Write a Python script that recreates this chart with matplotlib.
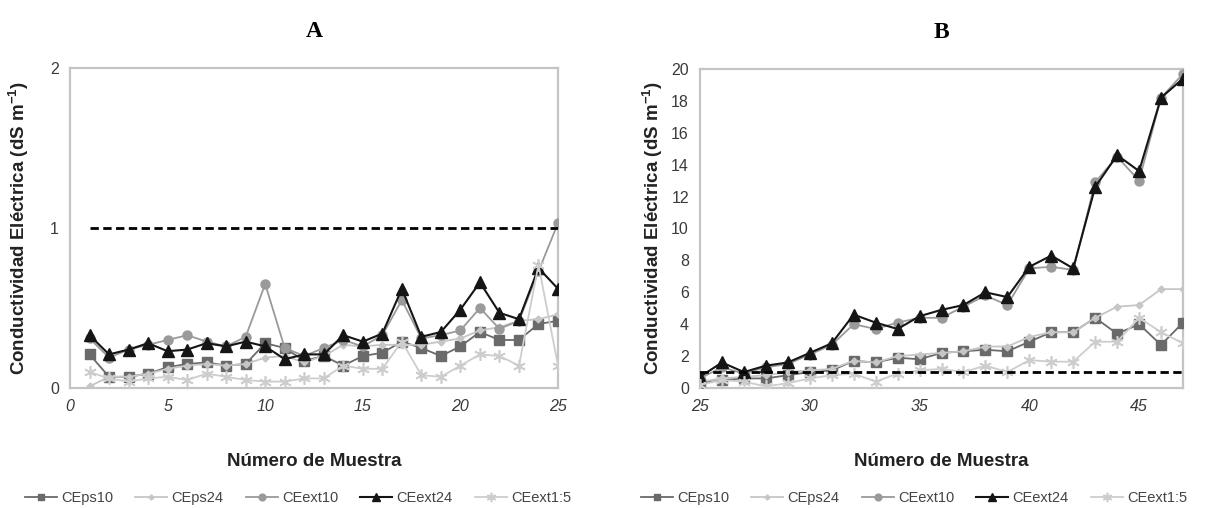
import matplotlib
matplotlib.use("Agg")
import matplotlib.pyplot as plt

# ---------------- data ----------------
samples_A = list(range(1, 26))
samples_B = list(range(25, 48))
limit_ce = 1.0

A_CEps10 = [0.21, 0.07, 0.07, 0.09, 0.13, 0.15, 0.16, 0.14, 0.15, 0.28, 0.25, 0.17,
            0.20, 0.14, 0.20, 0.22, 0.29, 0.25, 0.20, 0.26, 0.35, 0.30, 0.30, 0.40, 0.42]
A_CEps24 = [0.01, 0.07, 0.07, 0.09, 0.12, 0.14, 0.15, 0.14, 0.15, 0.19, 0.20, 0.16,
            0.20, 0.27, 0.26, 0.27, 0.27, 0.27, 0.29, 0.31, 0.36, 0.38, 0.42, 0.43, 0.46]
A_CEext10 = [0.31, 0.19, 0.24, 0.27, 0.30, 0.33, 0.29, 0.26, 0.32, 0.65, 0.25, 0.20,
             0.25, 0.30, 0.26, 0.33, 0.55, 0.31, 0.33, 0.36, 0.50, 0.37, 0.42, 0.73, 1.03]
A_CEext24 = [0.33, 0.21, 0.24, 0.28, 0.23, 0.24, 0.28, 0.26, 0.29, 0.26, 0.18, 0.21,
             0.21, 0.33, 0.29, 0.34, 0.62, 0.32, 0.35, 0.49, 0.66, 0.47, 0.43, 0.75, 0.62]
A_CEext15 = [0.10, 0.06, 0.04, 0.06, 0.07, 0.05, 0.09, 0.07, 0.05, 0.04, 0.04, 0.06,
             0.06, 0.14, 0.12, 0.12, 0.29, 0.08, 0.07, 0.14, 0.21, 0.20, 0.14, 0.77, 0.14]

B_CEps10 = [0.3, 0.5, 0.6, 0.6, 0.8, 1.0, 1.1, 1.7, 1.6, 1.9, 1.8, 2.2,
            2.3, 2.4, 2.3, 2.9, 3.5, 3.5, 4.4, 3.4, 4.0, 2.7, 4.1]
B_CEps24 = [0.4, 0.6, 0.7, 0.8, 1.0, 1.1, 1.2, 1.7, 1.6, 2.0, 2.1, 2.2,
            2.3, 2.6, 2.6, 3.2, 3.5, 3.5, 4.4, 5.1, 5.2, 6.2, 6.2]
B_CEext10 = [0.6, 1.3, 0.9, 1.3, 1.5, 2.1, 2.7, 4.0, 3.7, 4.1, 4.4, 4.4,
             5.1, 5.8, 5.2, 7.5, 7.6, 7.4, 12.9, 14.5, 13.0, 18.2, 19.7]
B_CEext24 = [0.7, 1.6, 1.0, 1.4, 1.6, 2.2, 2.8, 4.6, 4.1, 3.7, 4.5, 4.9,
             5.2, 6.0, 5.7, 7.6, 8.3, 7.5, 12.6, 14.6, 13.6, 18.2, 19.4]
B_CEext15 = [0.2, 0.5, 0.4, 0.1, 0.3, 0.6, 0.8, 0.9, 0.4, 0.9, 1.1, 1.2,
             1.0, 1.4, 1.0, 1.75, 1.65, 1.65, 2.9, 2.9, 4.4, 3.5, 2.8]

series_names = ["CEps10", "CEps24", "CEext10", "CEext24", "CEext1:5"]
ticks_A_x = [0, 5, 10, 15, 20, 25]
ticks_A_y = [0, 1, 2]
ticks_B_x = [25, 30, 35, 40, 45]
ticks_B_y = list(range(0, 21, 2))

# ---------------- style ----------------
plt.rcParams['font.family'] = ['Liberation Sans', 'DejaVu Sans']
plt.rcParams['mathtext.fontset'] = 'custom'
plt.rcParams['mathtext.rm'] = 'Liberation Sans'
plt.rcParams['mathtext.bf'] = 'Liberation Sans:bold'
styles = [
    dict(color='#6a6a6a', marker='s', ms=6.5, lw=1.3),
    dict(color='#c6c6c6', marker='D', ms=3.5, lw=1.3),
    dict(color='#9a9a9a', marker='o', ms=6.5, lw=1.3),
    dict(color='#151515', marker='^', ms=8, lw=1.5),
    dict(color='#cdcdcd', marker=(6, 2, 0), ms=9, lw=1.3, mew=1.2),
]

fig = plt.figure(figsize=(12.08, 5.08), dpi=100)
axA = fig.add_axes([70 / 1208, 120 / 508, 488 / 1208, 320 / 508])
axB = fig.add_axes([700 / 1208, 120 / 508, 483 / 1208, 319 / 508])

def draw(ax, x, data, xlim, ylim, xt, yt, title, legend_center, ylabelpad):
    handles = []
    for vals, st, name in zip(data, styles, series_names):
        st = dict(st)
        c = st.pop('color')
        h, = ax.plot(x, vals, color=c, mfc=c, mec=c, label=name, **st, zorder=3)
        handles.append(h)
    ax.hlines(limit_ce, x[0], x[-1], colors='black', linestyles=(0, (3, 1.6)), lw=2, zorder=4)
    ax.set_xlim(*xlim)
    ax.set_ylim(*ylim)
    ax.set_xticks(xt)
    ax.set_yticks(yt)
    ax.tick_params(length=0, labelsize=11.5, labelcolor='#3a3a3a', pad=8)
    for lab in ax.get_xticklabels():
        lab.set_fontstyle('italic')
    for s in ax.spines.values():
        s.set_color('#c4c4c4')
        s.set_linewidth(1.6)
    ax.set_ylabel('Conductividad Eléctrica (dS m$^{\\mathbf{-1}}$)', fontsize=13.5,
                  fontweight='bold', color='#222222', labelpad=ylabelpad)
    ax.set_xlabel('Número de Muestra', fontsize=13.5, fontweight='bold',
                  color='#222222', labelpad=28)
    ax.set_title(title, fontsize=17, fontweight='bold', family='Liberation Serif',
                 pad=22)
    fig.legend(handles=handles, loc='center', bbox_to_anchor=(legend_center / 1208, 1 - 498 / 508),
               ncol=5, frameon=False, fontsize=10.5, handlelength=2.2, columnspacing=1.5,
               handletextpad=0.3, labelcolor='#444444', markerscale=0.75)

draw(axA, samples_A, [A_CEps10, A_CEps24, A_CEext10, A_CEext24, A_CEext15],
     (0, 25), (0, 2), ticks_A_x, ticks_A_y, 'A', 298, 14)
draw(axB, samples_B, [B_CEps10, B_CEps24, B_CEext10, B_CEext24, B_CEext15],
     (25, 47), (0, 20), ticks_B_x, ticks_B_y, 'B', 914, 4)

fig.savefig('out.png', dpi=100)
